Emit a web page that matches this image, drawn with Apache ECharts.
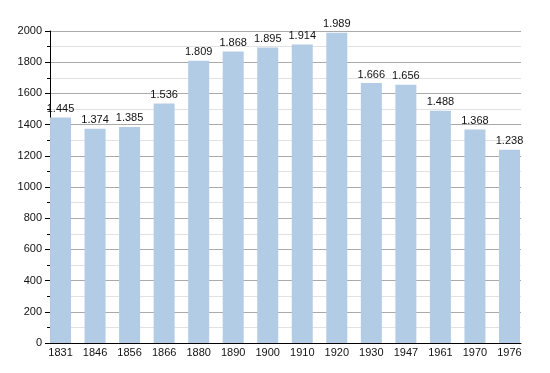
<!DOCTYPE html>
<html><head><meta charset="utf-8">
<script src="https://cdn.jsdelivr.net/npm/echarts@6/dist/echarts.min.js"></script>
<style>html,body{margin:0;padding:0;background:#fff}#c{width:550px;height:373px}</style>
</head><body><div id="c"></div>
<script>
const years = ['1831','1846','1856','1866','1880','1890','1900','1910','1920','1930','1947','1961','1970','1976'];
const population = [1445,1374,1385,1536,1809,1868,1895,1914,1989,1666,1656,1488,1368,1238];
const yTicks = {min:0, max:2000, interval:200};

const fmt = v => { const s = String(v); return s.length > 3 ? s.slice(0, s.length-3) + '.' + s.slice(-3) : s; };
const font = 'Liberation Sans, Arial, sans-serif';
const chart = echarts.init(document.getElementById('c'));
chart.setOption({
  animation: false,
  grid: [
    {left: 50, right: 29, top: 31, bottom: 30},
    {left: 43.25, right: 23.25, top: 31, bottom: 30}
  ],
  xAxis: [
    {gridIndex: 0, type: 'value', min: 0, max: 1, axisLine: {show: true, onZero: false, lineStyle: {color: '#000', width: 1}},
     axisTick: {show: false}, axisLabel: {show: false}, splitLine: {show: false}},
    {gridIndex: 1, type: 'category', data: years, axisLine: {show: false}, axisTick: {show: false},
     axisLabel: {color: '#111', fontSize: 11, fontFamily: font, margin: 4}}
  ],
  yAxis: [
    {gridIndex: 0, type: 'value', min: yTicks.min, max: yTicks.max, interval: yTicks.interval,
     axisLine: {show: true, lineStyle: {color: '#000', width: 1}},
     axisTick: {show: true, length: 5, lineStyle: {color: '#000'}},
     minorTick: {show: true, splitNumber: 2, length: 3, lineStyle: {color: '#000'}},
     axisLabel: {color: '#111', fontSize: 11, fontFamily: font, margin: 8, formatter: v => String(v)},
     splitLine: {show: true, lineStyle: {color: '#aaaaaa', width: 1}},
     minorSplitLine: {show: true, lineStyle: {color: '#e2e2e2', width: 1}}},
    {gridIndex: 1, type: 'value', min: yTicks.min, max: yTicks.max, show: false}
  ],
  series: [{
    type: 'bar', xAxisIndex: 1, yAxisIndex: 1, data: population, barWidth: 21,
    itemStyle: {color: '#b3cce6'},
    label: {show: true, position: 'top', distance: 3, color: '#111', fontSize: 11, fontFamily: font,
            formatter: p => fmt(p.value)}
  }]
});
</script></body></html>
